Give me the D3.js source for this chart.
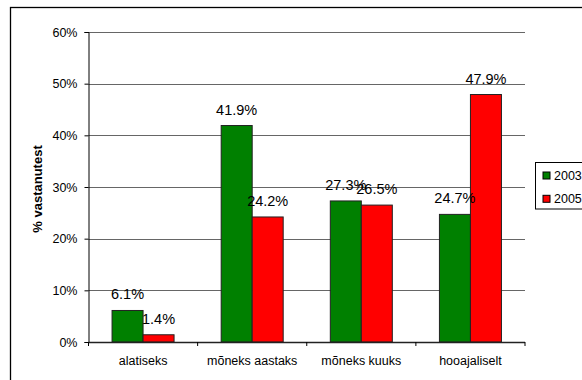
<!DOCTYPE html>
<html>
<head>
<meta charset="utf-8">
<script src="https://cdn.jsdelivr.net/npm/d3@7"></script>
<style>
  html, body { margin: 0; padding: 0; background: #fff; }
  svg { display: block; }
  text { font-family: "Liberation Sans", Arial, sans-serif; fill: #000; }
</style>
</head>
<body>
<svg id="chart" width="582" height="380"></svg>
<script>
const categories = ["alatiseks", "mõneks aastaks", "mõneks kuuks", "hooajaliselt"];
const seriesNames = ["2003", "2005"];
const values2003 = [6.1, 41.9, 27.3, 24.7];
const values2005 = [1.4, 24.2, 26.5, 47.9];
const yTicks = [0, 10, 20, 30, 40, 50, 60];
const colors = ["#008000", "#ff0000"];

const seriesValues = [values2003, values2005];

const svg = d3.select("#chart");

// outer chart border
svg.append("rect")
  .attr("x", 10.5).attr("y", 7.5)
  .attr("width", 600).attr("height", 400)
  .attr("fill", "none").attr("stroke", "#000").attr("stroke-width", 1.3);

const plotLeft = 88.5, plotRight = 525, plotTop = 32, plotBottom = 342;

const y = d3.scaleLinear().domain([0, 60]).range([plotBottom, plotTop]);
const x = d3.scaleBand().domain(categories).range([plotLeft, plotRight]).paddingInner(0).paddingOuter(0);
const xs = d3.scaleBand().domain(seriesNames).range([0, x.bandwidth()]).paddingInner(0).paddingOuter(0.76);

// gridlines
svg.append("g").selectAll("line")
  .data(yTicks.filter(d => d > 0))
  .join("line")
  .attr("x1", plotLeft).attr("x2", plotRight)
  .attr("y1", d => Math.round(y(d)) + 0.5).attr("y2", d => Math.round(y(d)) + 0.5)
  .attr("stroke", "#666").attr("stroke-width", 1.2);

// y axis
const yAxis = d3.axisLeft(y).tickValues(yTicks).tickFormat(d => d + "%").tickSize(4).tickPadding(7);
const gy = svg.append("g").attr("transform", `translate(${plotLeft},0)`).call(yAxis);
gy.select(".domain").attr("stroke", "#000");
gy.selectAll(".tick line").attr("stroke", "#000");
gy.selectAll(".tick text").attr("font-size", "12.5px").attr("font-family", "Liberation Sans, Arial, sans-serif").attr("fill", "#000");

// bars
const groups = svg.append("g").selectAll("g")
  .data(categories)
  .join("g")
  .attr("transform", d => `translate(${x(d)},0)`);

groups.selectAll("rect")
  .data((c, i) => seriesNames.map((s, j) => ({ s, j, v: seriesValues[j][i] })))
  .join("rect")
  .attr("x", d => xs(d.s))
  .attr("width", xs.bandwidth())
  .attr("y", d => y(d.v))
  .attr("height", d => y(0) - y(d.v))
  .attr("fill", d => colors[d.j])
  .attr("stroke", "#222").attr("stroke-width", 1);

// x axis
const xAxis = d3.axisBottom(x).tickSize(0).tickPadding(14);
const gx = svg.append("g").attr("transform", `translate(0,${plotBottom})`).call(xAxis);
gx.select(".domain").remove();
gx.append("line").attr("x1", plotLeft).attr("x2", plotRight).attr("y1", 0.5).attr("y2", 0.5).attr("stroke", "#222").attr("stroke-width", 1.3);
gx.selectAll(".tick text").attr("font-size", "12.5px").attr("font-family", "Liberation Sans, Arial, sans-serif").attr("fill", "#000");
// category boundary ticks
const bounds = categories.map(c => x(c)).concat([plotRight]);
gx.selectAll(".bt").data(bounds).join("line")
  .attr("class", "bt")
  .attr("x1", d => d).attr("x2", d => d)
  .attr("y1", 0).attr("y2", 4)
  .attr("stroke", "#000");

// data labels
groups.selectAll("text.val")
  .data((c, i) => seriesNames.map((s, j) => ({ s, j, v: seriesValues[j][i] })))
  .join("text")
  .attr("class", "val")
  .attr("x", d => xs(d.s) + xs.bandwidth() / 2)
  .attr("y", d => y(d.v) - 11)
  .attr("text-anchor", "middle")
  .attr("font-size", "14.5px")
  .text(d => d.v.toFixed(1) + "%");

// y title
svg.append("text")
  .attr("transform", `translate(42,189) rotate(-90)`)
  .attr("text-anchor", "middle")
  .attr("font-size", "13px")
  .attr("font-weight", "bold")
  .text("% vastanutest");

// legend
const lg = svg.append("g");
lg.append("rect")
  .attr("x", 535.5).attr("y", 162.5).attr("width", 60).attr("height", 46.5)
  .attr("fill", "#fff").attr("stroke", "#000").attr("stroke-width", 1);
const items = lg.selectAll("g.item").data(seriesNames).join("g")
  .attr("class", "item")
  .attr("transform", (d, i) => `translate(0,${i * 23.3})`);
items.append("rect")
  .attr("x", 543).attr("y", 172).attr("width", 7).attr("height", 7)
  .attr("fill", (d, i) => colors[i]).attr("stroke", "#000").attr("stroke-width", 1);
items.append("text")
  .attr("x", 554).attr("y", 180)
  .attr("font-size", "12.5px")
  .text(d => d);
</script>
</body>
</html>
